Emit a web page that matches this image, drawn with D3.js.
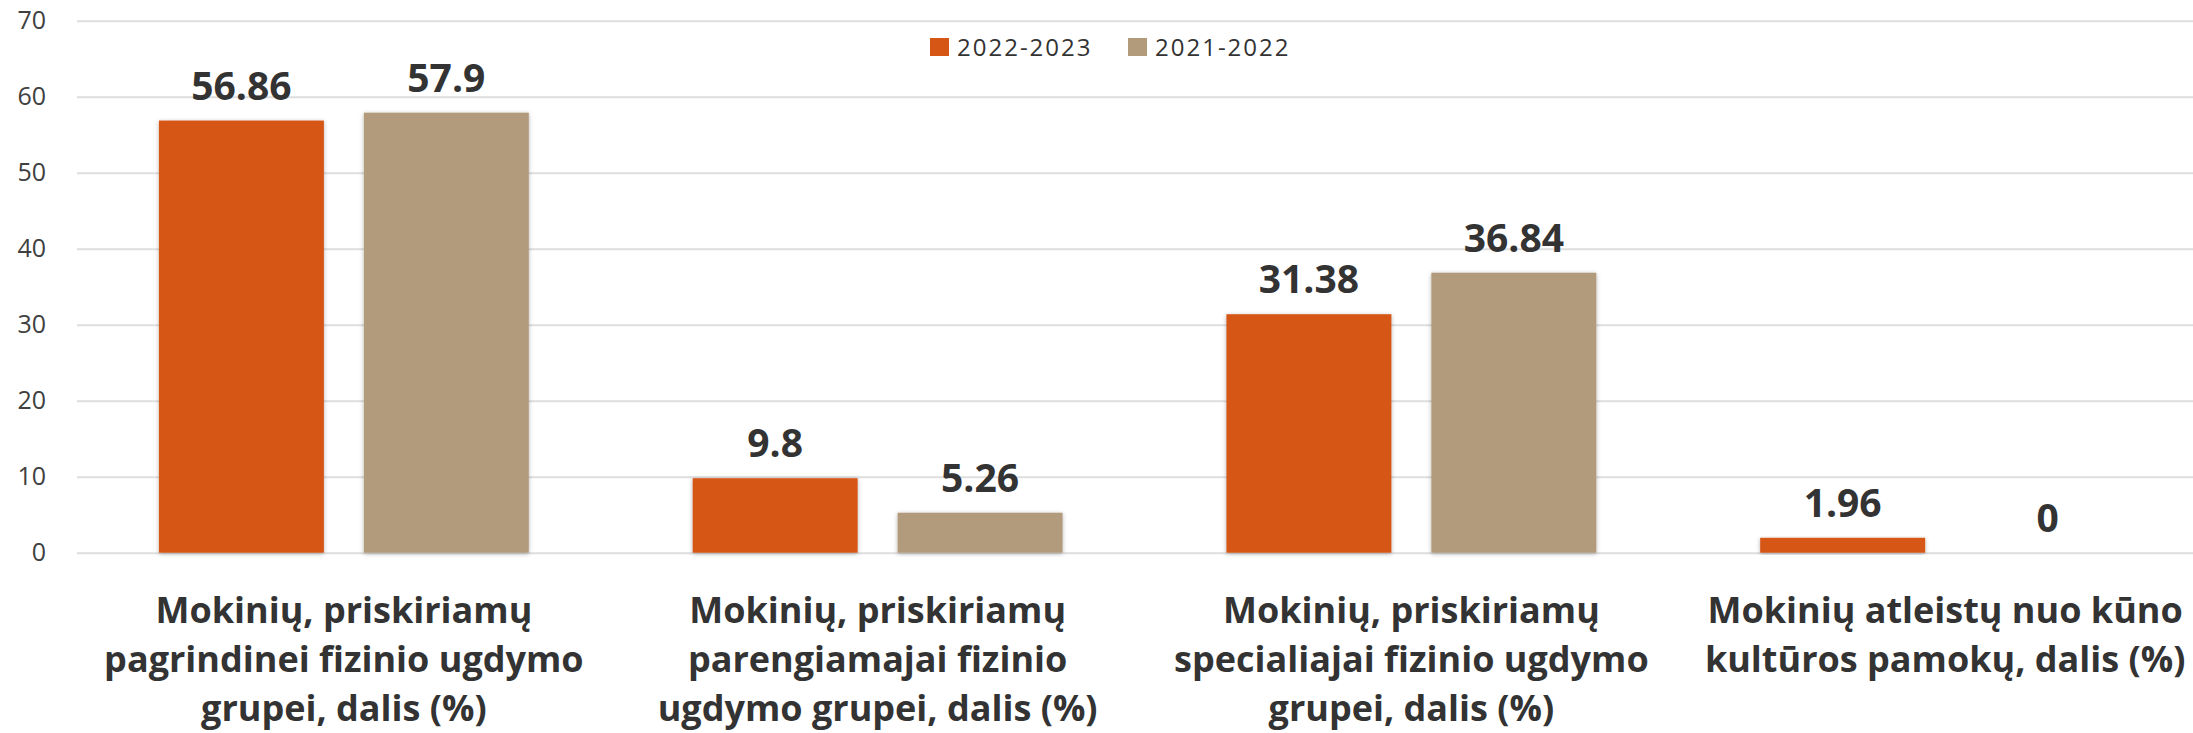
<!DOCTYPE html>
<html>
<head>
<meta charset="utf-8">
<script src="https://cdn.jsdelivr.net/npm/d3@7"></script>
<style>
  body { margin: 0; background: #fff; }
  svg { display: block; font-family: "Open Sans", sans-serif; }
</style>
</head>
<body>
<div id="chart"></div>
<script>
// data
var categories = ["pagrindine", "parengiamoji", "specialioji", "atleisti"]
var categoryLines = [
  ["Mokinių, priskiriamų", "pagrindinei fizinio ugdymo", "grupei, dalis (%)"],
  ["Mokinių, priskiriamų", "parengiamajai fizinio", "ugdymo grupei, dalis (%)"],
  ["Mokinių, priskiriamų", "specialiajai fizinio ugdymo", "grupei, dalis (%)"],
  ["Mokinių atleistų nuo kūno", "kultūros pamokų, dalis (%)"]
]
var series = ["2022-2023", "2021-2022"]
var values2023 = [56.86, 9.8, 31.38, 1.96]
var values2022 = [57.9, 5.26, 36.84, 0]
var yTicks = [0, 10, 20, 30, 40, 50, 60, 70]
var colors = ["#d65616", "#b29b7b"]

var width = 2193,
    height = 733

var margin = { left: 77, right: -19 }   // plot runs a bit past the right edge

var svg = d3.select("#chart").append("svg")
  .attr("width", width)
  .attr("height", height)

var defs = svg.append("defs")
var shadow = defs.append("filter").attr("id", "shadow")
  .attr("x", "-10%").attr("y", "-10%").attr("width", "120%").attr("height", "120%")
shadow.append("feDropShadow")
  .attr("dx", 0).attr("dy", 1)
  .attr("stdDeviation", 2)
  .attr("flood-color", "#000")
  .attr("flood-opacity", 0.3)

var x0 = d3.scaleBand()
  .domain(categories)
  .range([margin.left, width - margin.right])
  .paddingInner(0.307)
  .paddingOuter(0.1535)

var x1 = d3.scaleBand()
  .domain(series)
  .range([0, x0.bandwidth()])
  .paddingInner(0.195)

var y = d3.scaleLinear()
  .domain([0, 70])
  .range([552.7, 20.7])

// y axis + gridlines
var yAxis = d3.axisLeft(y)
  .tickValues(yTicks)
  .tickSizeInner(-(width - margin.right - margin.left))
  .tickSizeOuter(0)
  .tickPadding(31)

var ax = svg.append("g")
  .attr("class", "y axis")
  .attr("transform", "translate(" + margin.left + ",0)")
  .call(yAxis)

ax.select(".domain").remove()
ax.selectAll(".tick line")
  .attr("stroke", "#dedede")
  .attr("stroke-width", 2)
ax.selectAll(".tick text")
  .attr("fill", "#404040")
  .style("font-size", "25px")
  .style("font-family", "'Open Sans', sans-serif")

// bars
var rows = categories.map(function(c, i) {
  return { cat: c, vals: [
    { s: series[0], v: values2023[i] },
    { s: series[1], v: values2022[i] }
  ] }
})

var groups = svg.append("g").selectAll("g.group")
  .data(rows)
  .enter().append("g")
  .attr("class", "group")
  .attr("transform", function(d) { return "translate(" + x0(d.cat) + ",0)" })

groups.selectAll("rect")
  .data(function(d) { return d.vals })
  .enter().append("rect")
  .attr("x", function(d) { return x1(d.s) })
  .attr("y", function(d) { return y(d.v) })
  .attr("width", x1.bandwidth())
  .attr("height", function(d) { return y(0) - y(d.v) })
  .attr("fill", function(d, i) { return colors[i] })
  .attr("filter", function(d) { return d.v > 0 ? "url(#shadow)" : null })

groups.selectAll("text.val")
  .data(function(d) { return d.vals })
  .enter().append("text")
  .attr("class", "val")
  .attr("x", function(d) { return x1(d.s) + x1.bandwidth() / 2 })
  .attr("y", function(d) { return y(d.v) - 21 })
  .attr("text-anchor", "middle")
  .attr("fill", "#333")
  .style("font-size", "39px")
  .style("font-weight", 700)
  .text(function(d) { return String(d.v) })

// category labels
var catText = svg.append("g").selectAll("text.cat")
  .data(categories)
  .enter().append("text")
  .attr("class", "cat")
  .attr("text-anchor", "middle")
  .attr("fill", "#333")
  .style("font-size", "36px")
  .style("font-weight", 700)

catText.each(function(c, i) {
  var t = d3.select(this)
  var cx = x0(c) + x0.bandwidth() / 2
  categoryLines[i].forEach(function(line, j) {
    t.append("tspan")
      .attr("x", cx)
      .attr("y", 623 + j * 49)
      .text(line)
  })
})

// legend
var legend = svg.append("g").attr("class", "legend")
var item = legend.selectAll("g")
  .data(series)
  .enter().append("g")
  .attr("transform", function(d, i) { return "translate(" + (930 + i * 198) + ",38)" })

item.append("rect")
  .attr("width", 19)
  .attr("height", 18)
  .attr("fill", function(d, i) { return colors[i] })

item.append("text")
  .attr("x", 27)
  .attr("y", 18)
  .attr("fill", "#333")
  .style("font-size", "24px")
  .style("letter-spacing", "2px")
  .text(function(d) { return d })
</script>
</body>
</html>
